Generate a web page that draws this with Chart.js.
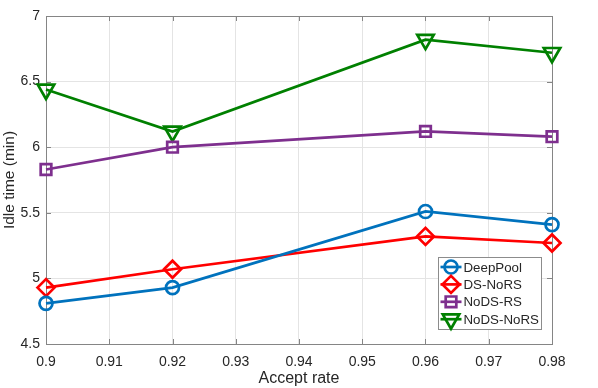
<!DOCTYPE html>
<html>
<head>
<meta charset="utf-8">
<script src="https://cdn.jsdelivr.net/npm/chart.js@4/dist/chart.umd.min.js"></script>
<style>
  html, body { margin: 0; padding: 0; background: #fff; }
  #wrap { width: 598px; height: 388px; }
</style>
</head>
<body>
<div id="wrap"><canvas id="idleChart" width="598" height="388"></canvas></div>
<script>
// data
const acceptRates = [0.9, 0.92, 0.96, 0.98];
const deepPool  = [4.81, 4.93, 5.51, 5.41];
const dsNoRS    = [4.93, 5.07, 5.32, 5.27];
const noDSRS    = [5.83, 6.00, 6.12, 6.08];
const noDSNoRS  = [6.44, 6.12, 6.82, 6.72];

const xTicks = [0.9, 0.91, 0.92, 0.93, 0.94, 0.95, 0.96, 0.97, 0.98];
const yTicks = [4.5, 5, 5.5, 6, 6.5, 7];

const seriesNames = ['DeepPool', 'DS-NoRS', 'NoDS-RS', 'NoDS-NoRS'];

const axisColor = '#858585';
const gridColor = '#e4e4e4';
const textColor = '#262626';
const fontFamily = '"Liberation Sans", Arial, Helvetica, sans-serif';
const lineW = 2.7;

function toPoints(values) {
    return values.map((v, i) => ({ x: acceptRates[i], y: v }));
}

function makeSet(label, values, color, style, radius, rotation) {
    return {
        label: label,
        data: toPoints(values),
        borderColor: color,
        backgroundColor: color,
        borderWidth: lineW,
        pointStyle: style,
        pointRadius: radius,
        pointHoverRadius: radius,
        pointRotation: rotation || 0,
        pointBorderWidth: lineW,
        pointBackgroundColor: 'rgba(255,255,255,0)',
        pointBorderColor: color,
        tension: 0,
        clip: false
    };
}

const datasets = [
    makeSet(seriesNames[0], deepPool, '#0072BD', 'circle', 6.5),
    makeSet(seriesNames[1], dsNoRS, '#FF0000', 'rectRot', 8.5),
    makeSet(seriesNames[2], noDSRS, '#7E2F8E', 'rect', 7.5),
    makeSet(seriesNames[3], noDSNoRS, '#008000', 'triangle', 9.5, 180)
];

// box around the plot with inward ticks, MATLAB style
const boxPlugin = {
    id: 'matlabBox',
    beforeDatasetsDraw(chart) {
        const { ctx, chartArea: a, scales } = chart;
        ctx.save();
        ctx.strokeStyle = axisColor;
        ctx.lineWidth = 1;
        ctx.strokeRect(Math.round(a.left) + 0.5, Math.round(a.top) + 0.5,
            Math.round(a.right - a.left), Math.round(a.bottom - a.top));
        const tl = 5;
        ctx.beginPath();
        xTicks.forEach(t => {
            const px = Math.round(scales.x.getPixelForValue(t)) + 0.5;
            ctx.moveTo(px, a.bottom); ctx.lineTo(px, a.bottom - tl);
            ctx.moveTo(px, a.top); ctx.lineTo(px, a.top + tl);
        });
        yTicks.forEach(t => {
            const py = Math.round(scales.y.getPixelForValue(t)) + 0.5;
            ctx.moveTo(a.left, py); ctx.lineTo(a.left + tl, py);
            ctx.moveTo(a.right, py); ctx.lineTo(a.right - tl, py);
        });
        ctx.stroke();
        ctx.restore();
    }
};

// legend box in the lower right corner of the plot
const legendPlugin = {
    id: 'insideLegend',
    afterDraw(chart) {
        const { ctx } = chart;
        const box = { x: 438.5, y: 257.5, w: 103, h: 72 };
        ctx.save();
        ctx.fillStyle = '#fff';
        ctx.fillRect(box.x, box.y, box.w, box.h);
        ctx.strokeStyle = '#8c8c8c';
        ctx.lineWidth = 1;
        ctx.strokeRect(box.x, box.y, box.w, box.h);
        ctx.font = '13.3px ' + fontFamily;
        ctx.textBaseline = 'middle';
        ctx.textAlign = 'left';
        chart.data.datasets.forEach((ds, i) => {
            const cy = box.y + 9.5 + i * 17.4;
            ctx.strokeStyle = ds.borderColor;
            ctx.lineWidth = lineW;
            ctx.beginPath();
            ctx.moveTo(box.x + 2, cy);
            ctx.lineTo(box.x + 23, cy);
            ctx.stroke();
            ctx.fillStyle = 'rgba(255,255,255,0)';
            Chart.helpers.drawPoint(ctx, {
                pointStyle: ds.pointStyle,
                radius: ds.pointRadius,
                rotation: ds.pointRotation,
                borderWidth: ds.pointBorderWidth
            }, box.x + 12.5, cy);
            ctx.fillStyle = textColor;
            ctx.fillText(ds.label, box.x + 25, cy + 1);
        });
        ctx.restore();
    }
};

document.addEventListener('DOMContentLoaded', function () {
    const ctx = document.getElementById('idleChart');

    new Chart(ctx, {
        type: 'line',
        data: { datasets: datasets },
        options: {
            responsive: false,
            animation: false,
            layout: { padding: { top: 16, right: 46, left: 0, bottom: 0 } },
            plugins: {
                legend: { display: false },
                tooltip: { enabled: false }
            },
            scales: {
                x: {
                    type: 'linear',
                    min: 0.9,
                    max: 0.98,
                    afterBuildTicks: scale => { scale.ticks = xTicks.map(v => ({ value: v })); },
                    afterFit: scale => { scale.height = 44; },
                    border: { display: false },
                    grid: { color: gridColor, drawTicks: false },
                    ticks: {
                        color: textColor,
                        font: { family: fontFamily, size: 14 },
                        padding: 10,
                        maxRotation: 0,
                        callback: v => String(Number(v.toFixed(2)))
                    },
                    title: {
                        display: true,
                        text: 'Accept rate',
                        color: textColor,
                        font: { family: fontFamily, size: 16 },
                        padding: { top: 0, bottom: 0 }
                    }
                },
                y: {
                    min: 4.5,
                    max: 7,
                    afterBuildTicks: scale => { scale.ticks = yTicks.map(v => ({ value: v })); },
                    afterFit: scale => { scale.width = 46; },
                    border: { display: false },
                    grid: { color: gridColor, drawTicks: false },
                    ticks: {
                        color: textColor,
                        font: { family: fontFamily, size: 14 },
                        padding: 6,
                        callback: v => String(v)
                    },
                    title: {
                        display: true,
                        text: 'Idle time (min)',
                        color: textColor,
                        font: { family: fontFamily, size: 15.5 },
                        padding: { top: 0, bottom: 0 }
                    }
                }
            }
        },
        plugins: [boxPlugin, legendPlugin]
    });
});
</script>
</body>
</html>
